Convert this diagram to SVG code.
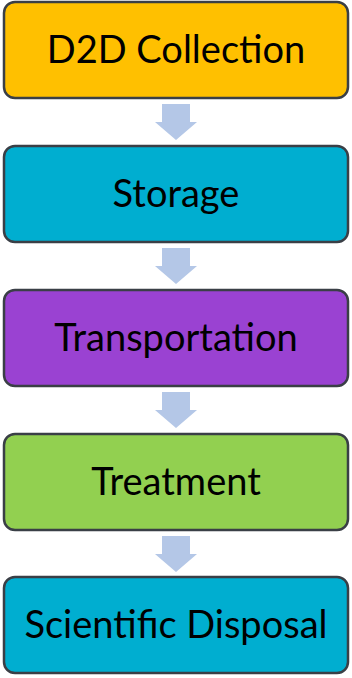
<svg xmlns="http://www.w3.org/2000/svg" width="352" height="678" viewBox="0 0 352 678">
<style>
.box{stroke:#3A3F46;stroke-width:2.5}
.lbl{font-family:Lato,"Open Sans",sans-serif;font-size:38px;fill:#000;text-anchor:middle}
.arr{fill:#B4C7E7}
</style>
<defs>
<path id="ar" d="M-14,0 H14 V18 H21 L0,36 L-21,18 H-14 Z"/>
</defs>
<g id="connectors">
<use href="#ar" class="arr" x="176" y="104"/>
<use href="#ar" class="arr" x="176" y="248"/>
<use href="#ar" class="arr" x="176" y="392"/>
<use href="#ar" class="arr" x="176" y="536"/>
</g>
<g id="n1"><rect class="box" x="4" y="2" width="344" height="96" rx="11" fill="#FFC000"/><text class="lbl" x="176" y="63">D2D Collection</text></g>
<g id="n2"><rect class="box" x="4" y="146" width="344" height="96" rx="11" fill="#00AED0"/><text class="lbl" x="176" y="207">Storage</text></g>
<g id="n3"><rect class="box" x="4" y="290" width="344" height="96" rx="11" fill="#9A42D2"/><text class="lbl" x="176" y="351">Transportation</text></g>
<g id="n4"><rect class="box" x="4" y="434" width="344" height="96" rx="11" fill="#92D050"/><text class="lbl" x="176" y="495">Treatment</text></g>
<g id="n5"><rect class="box" x="4" y="577" width="344" height="96" rx="11" fill="#00AED0"/><text class="lbl" x="176" y="638">Scientific Disposal</text></g>
</svg>
